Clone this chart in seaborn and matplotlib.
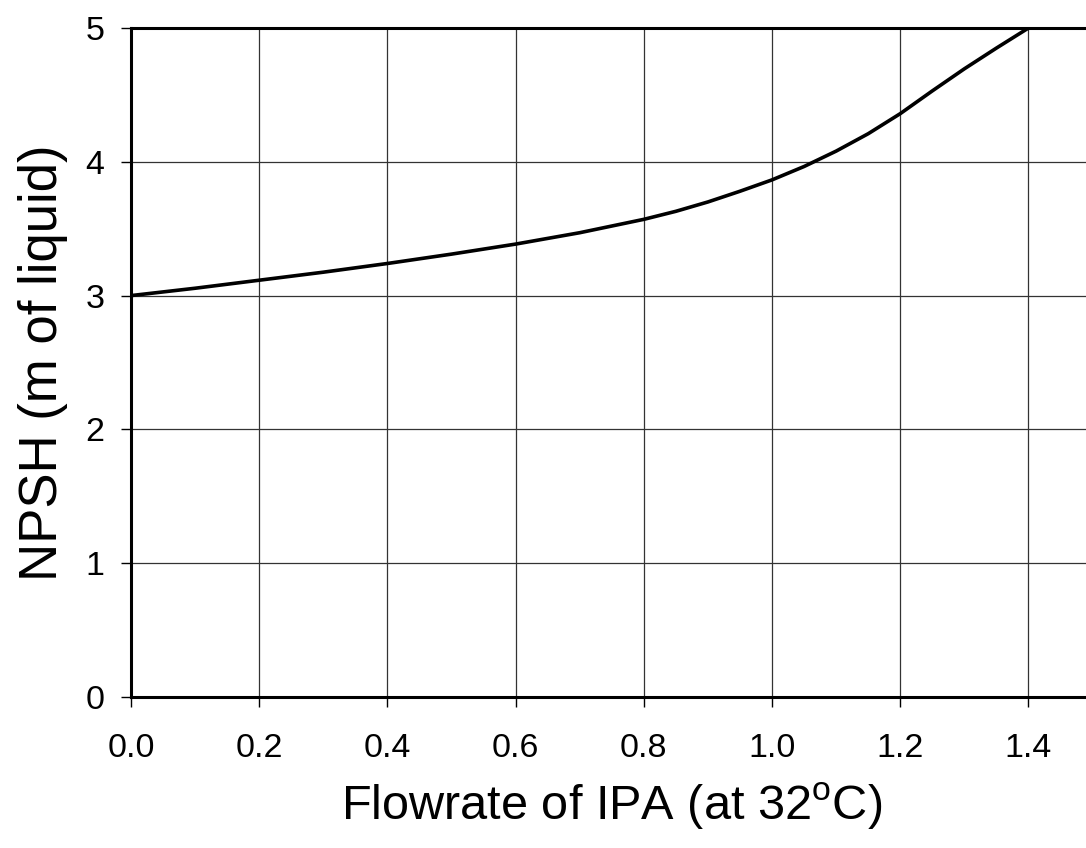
import seaborn as sns
import matplotlib.pyplot as plt
import pandas as pd

# curve
flowrate = [0.0, 0.1, 0.2, 0.3, 0.4, 0.5, 0.6, 0.7, 0.8, 0.85, 0.9, 0.95, 1.0,
            1.05, 1.1, 1.15, 1.2, 1.25, 1.3, 1.35, 1.4]
npsh = [3.0, 3.055, 3.115, 3.175, 3.24, 3.31, 3.385, 3.47, 3.57, 3.63, 3.70, 3.78, 3.865,
        3.965, 4.08, 4.21, 4.36, 4.53, 4.695, 4.85, 5.0]
x_ticks = [0.0, 0.2, 0.4, 0.6, 0.8, 1.0, 1.2, 1.4]
y_ticks = [0, 1, 2, 3, 4, 5]

sns.set_style("white")
plt.rcParams['font.family'] = ['Liberation Sans', 'DejaVu Sans']
plt.rcParams['mathtext.fontset'] = 'custom'
plt.rcParams['mathtext.rm'] = 'Liberation Sans'
plt.rcParams['text.color'] = 'black'
plt.rcParams['axes.labelcolor'] = 'black'
plt.rcParams['xtick.color'] = 'black'
plt.rcParams['ytick.color'] = 'black'

df = pd.DataFrame({"Flowrate": flowrate, "NPSH": npsh})

fig = plt.figure(figsize=(10.86, 8.48), dpi=100)
ax = fig.add_axes([131 / 1086, 151 / 848, (1092.6 - 131) / 1086, 669 / 848])

sns.lineplot(data=df, x="Flowrate", y="NPSH", color="black", linewidth=2.6, ax=ax)

ax.set_xlim(0, 1.5)
ax.set_ylim(0, 5)
ax.set_xticks(x_ticks)
ax.set_xticklabels([f"{v:.1f}" for v in x_ticks])
ax.set_yticks(y_ticks)
ax.grid(True, color="#333333", linewidth=0.9)
ax.set_axisbelow(True)

for side in ["left", "bottom", "top"]:
    ax.spines[side].set_color("black")
    ax.spines[side].set_linewidth(2.2)
ax.spines["right"].set_visible(False)

ax.tick_params(axis="x", direction="out", length=7, width=1,
               labelsize=24.5, pad=19, bottom=True)
ax.tick_params(axis="y", direction="out", length=7, width=1,
               labelsize=24.5, pad=12, left=True)

ax.set_xlabel("Flowrate of IPA (at 32$^{\\mathrm{o}}$C)", fontsize=35, labelpad=12)
ax.set_ylabel("NPSH (m of liquid)", fontsize=38, labelpad=13)

fig.savefig("out.png", dpi=100)
